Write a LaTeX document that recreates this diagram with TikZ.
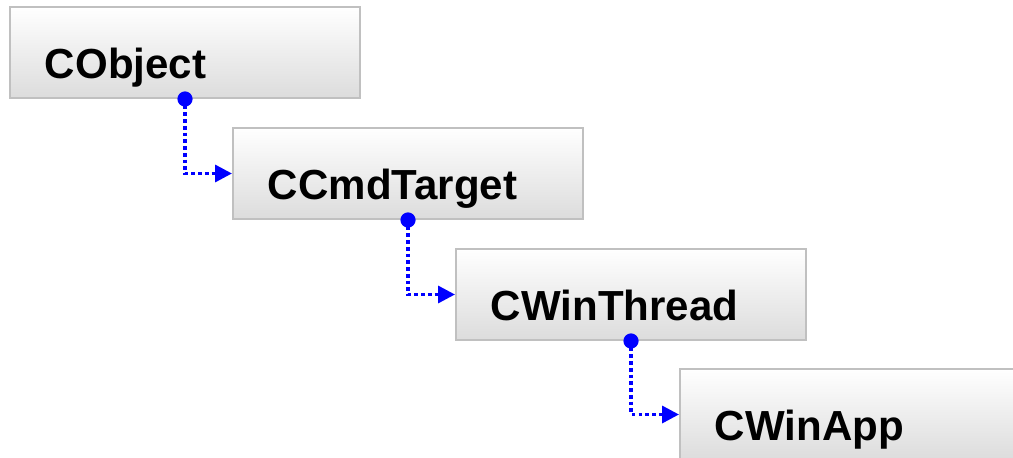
\documentclass[tikz,border=0pt]{standalone}
\usepackage{fontspec}
\setmainfont{Liberation Sans}
\definecolor{linkblue}{RGB}{0,0,255}
\definecolor{boxedge}{RGB}{192,192,192}
\definecolor{boxbottom}{RGB}{220,220,220}
\usetikzlibrary{arrows.meta,positioning}

\begin{document}
\begin{tikzpicture}[x=0.025cm, y=-0.025cm,
    classbox/.style={draw=boxedge, line width=1.4pt,
      top color=white, bottom color=boxbottom,
      minimum width=8.75cm, minimum height=2.275cm,
      text width=7cm, align=left, inner xsep=0.875cm, inner ysep=0pt,
      text height=1.275cm, text depth=0pt,
      font=\fontsize{29.9}{36}\selectfont\bfseries},
    inherit/.style={draw=linkblue, line width=2.5pt,
      dash pattern=on 2.5pt off 2.3pt,
      -{Triangle[length=0.42cm, width=0.42cm]}}]
    \useasboundingbox (0,0) rectangle (1013,458);
    % Class boxes
    \foreach \nm/\x/\y/\lbl in {
      cobj/185/52.5/CObject,
      ccmd/408/173.5/CCmdTarget,
      cthread/631/294.5/CWinThread,
      capp/855/414.5/CWinApp
    }{
      \node[classbox] (\nm) at (\x,\y) {\lbl};
    }
    % Derivation links
    \foreach \a/\b in {cobj/ccmd, ccmd/cthread, cthread/capp}{
      \draw[inherit] (\a.south) |- (\b.west);
      \fill[linkblue] (\a.south) circle[radius=0.19cm];
    }
\end{tikzpicture}
\end{document}
